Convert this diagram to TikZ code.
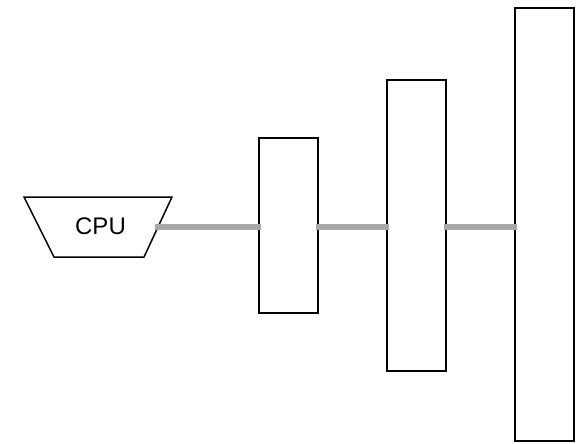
\documentclass[tikz,border=0pt]{standalone}
\usepackage{fontspec}
\setmainfont{Liberation Sans}
\usetikzlibrary{calc}
\begin{document}
\begin{tikzpicture}[x=1pt,y=-1pt,
  unit/.style={draw=black,line width=1.5pt,fill=white,minimum width=59pt,inner sep=0pt},
  bus/.style={draw={rgb,255:red,168;green,168;blue,168},line width=6pt,line cap=rect}]
  \useasboundingbox (0,0) rectangle (584,444);
  % processor block
  \draw[line width=1.5pt,line join=miter]
    (24,197) coordinate (cpuTL) -- (172,197) coordinate (cpuTR)
    -- (144,257) coordinate (cpuBR) -- (54,257) coordinate (cpuBL) -- cycle;
  \node[font=\fontsize{24}{27}\selectfont,inner sep=0pt] (cpu) at (100.5,226.5) {CPU};
  \coordinate (cpuport) at ($(cpuTR)!0.5!(cpuBR)$);
  % memory levels
  \node[unit,minimum height=175pt] (m1) at (288.5,225.5) {};
  \node[unit,minimum height=291pt] (m2) at (416.5,225.5) {};
  \node[unit,minimum height=433pt] (m3) at (544.5,224.5) {};
  % links
  \draw[bus] (cpuport) -- (m1.west |- cpuport);
  \draw[bus] (m1.east |- cpuport) -- (m2.west |- cpuport);
  \draw[bus] (m2.east |- cpuport) -- (m3.west |- cpuport);
\end{tikzpicture}
\end{document}
